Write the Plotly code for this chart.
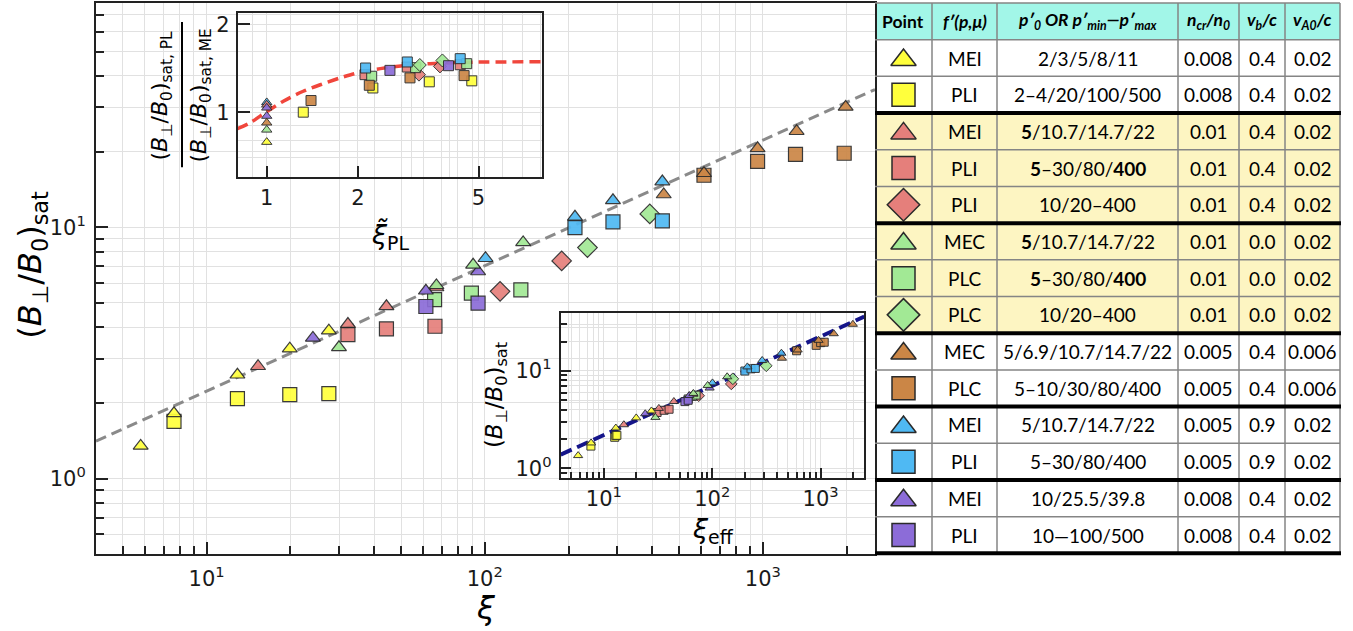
import math
import plotly.graph_objects as go

W, H = 1353, 631

# ---------------- data ----------------
# main panel: xi  vs  (B_perp/B0)_sat
y_tri_xi = [5.79, 7.63, 12.9, 19.9, 27.5]
y_tri_b = [1.35, 1.82, 2.59, 3.29, 3.88]
y_sq_xi = [7.63, 12.9, 19.9, 27.5]
y_sq_b = [1.69, 2.08, 2.16, 2.18]
r_tri_xi = [15.3, 32.2, 44.3, 67.0]
r_tri_b = [2.80, 4.12, 4.85, 5.76]
r_sq_xi = [32.2, 44.3, 66.2]
r_sq_b = [3.74, 3.94, 4.04]
r_dia_xi = [113.5, 189.0]
r_dia_b = [5.56, 7.35]
g_tri_xi = [29.9, 67.0, 90.8, 137.4]
g_tri_b = [3.33, 5.87, 7.09, 8.70]
g_sq_xi = [66.0, 89.5, 134.8]
g_sq_b = [5.15, 5.47, 5.64]
g_dia_xi = [234.0, 392.0]
g_dia_b = [8.30, 11.3]
o_tri_xi = [440.0, 614.0, 957.0, 1322.0, 1984.0]
o_tri_b = [13.5, 16.4, 20.6, 24.1, 30.1]
o_sq_xi = [614.0, 957.0, 1310.0, 1960.0]
o_sq_b = [16.1, 18.3, 19.5, 19.7]
c_tri_xi = [100.6, 211.0, 289.0, 435.0]
c_tri_b = [7.53, 11.0, 12.8, 15.2]
c_sq_xi = [211.0, 289.0, 435.0]
c_sq_b = [9.97, 10.5, 10.6]
p_tri_xi = [24.1, 61.4, 94.6]
p_tri_b = [3.63, 5.59, 6.67]
p_sq_xi = [61.4, 94.6]
p_sq_b = [4.84, 4.99]

# dashed reference line (main) end points
fit_xi = [4.0, 2530.0]
fit_b = [1.41, 35.3]

# lower inset: xi_eff (triangles keep their xi)
y_sq_eff = [7.6, 12.6, 12.9, 13.2]
r_sq_eff = [31.0, 36.0, 40.0]
r_dia_eff = [75.0, 150.0]
g_sq_eff = [60.0, 66.0, 71.0]
g_dia_eff = [155.0, 315.0]
o_sq_eff = [600.0, 910.0, 1000.0, 1080.0]
c_sq_eff = [200.0, 228.0, 250.0]
p_sq_eff = [56.0, 60.0]
fit_eff_x = [4.0, 2530.0]
fit_eff_b = [1.38, 36.1]

# upper inset: xi_tilde_PL vs ratio
y_tri_rx, y_tri_ry = [1.0], [0.79]
g_tri_rx, g_tri_ry = [1.0], [0.87]
o_tri_rx, o_tri_ry = [1.0], [0.92]
p_tri_rx, p_tri_ry = [1.0, 1.0], [0.97, 1.035]
r_tri_rx, r_tri_ry = [1.0], [1.06]
c_tri_rx, c_tri_ry = [1.0], [1.08]
y_sq_rx, y_sq_ry = [1.32, 2.24, 3.44, 4.75], [1.0, 1.21, 1.27, 1.28]
o_sq_rx, o_sq_ry = [1.40, 2.18, 2.97, 4.48], [1.096, 1.236, 1.31, 1.334]
c_sq_rx, c_sq_ry = [2.12, 2.91, 4.35], [1.416, 1.485, 1.524]
r_sq_rx, r_sq_ry = [2.11, 2.91, 4.35], [1.344, 1.427, 1.453]
g_sq_rx, g_sq_ry = [2.22, 3.10, 4.57], [1.327, 1.42, 1.465]
p_sq_rx, p_sq_ry = [2.55, 3.98], [1.39, 1.442]
r_dia_rx, r_dia_ry = [3.18, 3.73], [1.344, 1.434]
g_dia_rx, g_dia_ry = [3.20, 3.80], [1.45, 1.503]
curve_x = [0.80, 0.881, 1.005, 1.134, 1.32, 1.537, 1.79, 2.03, 2.37, 2.82, 3.46, 4.46, 5.74, 8.08]
curve_y = [0.878, 0.920, 1.008, 1.090, 1.179, 1.252, 1.32, 1.369, 1.409, 1.442, 1.465, 1.480, 1.485, 1.487]

# table contents
tab_header = ["<b>Point</b>", "<b><i>f′(p,μ)</i></b>",
              "<b><i>p′<sub>0</sub> OR p′<sub>min</sub>—p′<sub>max</sub></i></b>",
              "<b><i>n<sub>cr</sub>/n<sub>0</sub></i></b>", "<b><i>v<sub>b</sub>/c</i></b>",
              "<b><i>v<sub>A0</sub>/c</i></b>"]
tab_f = ["MEI", "PLI", "MEI", "PLI", "PLI", "MEC", "PLC", "PLC", "MEC", "PLC", "MEI", "PLI", "MEI", "PLI"]
tab_p = ["2/3/5/8/11", "2–4/20/100/500", "<b>5</b>/10.7/14.7/22", "<b>5</b>–30/80/<b>400</b>",
         "10/20–400", "<b>5</b>/10.7/14.7/22", "<b>5</b>–30/80/<b>400</b>", "10/20–400",
         "5/6.9/10.7/14.7/22", "5–10/30/80/400", "5/10.7/14.7/22", "5–30/80/400",
         "10/25.5/39.8", "10—100/500"]
tab_n = ["0.008", "0.008", "0.01", "0.01", "0.01", "0.01", "0.01", "0.01", "0.005", "0.005",
         "0.005", "0.005", "0.008", "0.008"]
tab_vb = ["0.4", "0.4", "0.4", "0.4", "0.4", "0.0", "0.0", "0.0", "0.4", "0.4", "0.9", "0.9", "0.4", "0.4"]
tab_va = ["0.02", "0.02", "0.02", "0.02", "0.02", "0.02", "0.02", "0.02", "0.006", "0.006",
          "0.02", "0.02", "0.02", "0.02"]

# ---------------- styles ----------------
YEL, RED, GRN, BRN, BLU, PUR = "#ffff3c", "#e57f7b", "#a2e995", "#cb8646", "#4fb9f3", "#8c6cd8"
EDGE = "#2a2a2a"

series = [
    # colour, symbol, main x, main y, eff x, ratio x, ratio y
    (YEL, "square", y_sq_xi, y_sq_b, y_sq_eff, y_sq_rx, y_sq_ry),
    (RED, "square", r_sq_xi, r_sq_b, r_sq_eff, r_sq_rx, r_sq_ry),
    (RED, "diamond", r_dia_xi, r_dia_b, r_dia_eff, r_dia_rx, r_dia_ry),
    (GRN, "square", g_sq_xi, g_sq_b, g_sq_eff, g_sq_rx, g_sq_ry),
    (GRN, "diamond", g_dia_xi, g_dia_b, g_dia_eff, g_dia_rx, g_dia_ry),
    (BRN, "square", o_sq_xi, o_sq_b, o_sq_eff, o_sq_rx, o_sq_ry),
    (BLU, "square", c_sq_xi, c_sq_b, c_sq_eff, c_sq_rx, c_sq_ry),
    (PUR, "square", p_sq_xi, p_sq_b, p_sq_eff, p_sq_rx, p_sq_ry),
    (BRN, "triangle-up", o_tri_xi, o_tri_b, o_tri_xi, o_tri_rx, o_tri_ry),
    (BLU, "triangle-up", c_tri_xi, c_tri_b, c_tri_xi, c_tri_rx, c_tri_ry),
    (RED, "triangle-up", r_tri_xi, r_tri_b, r_tri_xi, r_tri_rx, r_tri_ry),
    (PUR, "triangle-up", p_tri_xi, p_tri_b, p_tri_xi, p_tri_rx, p_tri_ry),
    (GRN, "triangle-up", g_tri_xi, g_tri_b, g_tri_xi, g_tri_rx, g_tri_ry),
    (YEL, "triangle-up", y_tri_xi, y_tri_b, y_tri_xi, y_tri_rx, y_tri_ry),
]
tab_colors = [YEL, YEL, RED, RED, RED, GRN, GRN, GRN, BRN, BRN, BLU, BLU, PUR, PUR]
tab_syms = ["triangle-up", "square", "triangle-up", "square", "diamond", "triangle-up", "square",
            "diamond", "triangle-up", "square", "triangle-up", "square", "triangle-up", "square"]

size_main = {"triangle-up": 13, "square": 14, "diamond": 15}
size_up = {"triangle-up": 9, "square": 10, "diamond": 10}
size_lo = {"triangle-up": 8, "square": 8, "diamond": 9}
size_tab = {"triangle-up": 22, "square": 23, "diamond": 25}

fig = go.Figure()

# reference lines
fig.add_trace(go.Scatter(x=fit_xi, y=fit_b, mode="lines", xaxis="x", yaxis="y",
                         line=dict(color="#8a8a8a", width=3, dash="11px,6px"), hoverinfo="skip"))
fig.add_trace(go.Scatter(x=fit_eff_x, y=fit_eff_b, mode="lines", xaxis="x3", yaxis="y3",
                         line=dict(color="#15158a", width=4, dash="12px,6px"), hoverinfo="skip"))
fig.add_trace(go.Scatter(x=curve_x, y=curve_y, mode="lines", xaxis="x2", yaxis="y2", line_shape="spline",
                         line=dict(color="#f0463c", width=3.5, dash="11px,6px"), hoverinfo="skip"))

for col, sym, mx, my, ex, rx, ry in series:
    fig.add_trace(go.Scatter(x=mx, y=my, mode="markers", xaxis="x", yaxis="y",
                             marker=dict(color=col, symbol=sym, size=size_main[sym], opacity=0.92,
                                         line=dict(color=EDGE, width=1.2))))
    fig.add_trace(go.Scatter(x=ex, y=my, mode="markers", xaxis="x3", yaxis="y3",
                             marker=dict(color=col, symbol=sym, size=size_lo[sym], opacity=0.92,
                                         line=dict(color=EDGE, width=1))))
    fig.add_trace(go.Scatter(x=rx, y=ry, mode="markers", xaxis="x2", yaxis="y2",
                             marker=dict(color=col, symbol=sym, size=size_up[sym], opacity=0.92,
                                         line=dict(color=EDGE, width=1))))

# ---------------- table ----------------
TX0, TX1 = 875, 1340
col_edges = [875, 932, 997, 1178, 1239, 1285, 1340]
row_h = (556 - 3) / 15.0
row_edges = [3 + row_h * k for k in range(16)]
shapes = []
annotations = []


def px(x):
    return x / W


def py(y):
    return 1 - y / H


def ann(x, y, text, size, family="DejaVu Sans", angle=0):
    return dict(x=px(x), y=py(y), xref="paper", yref="paper", text=text, showarrow=False,
                xanchor="center", yanchor="middle", textangle=angle,
                font=dict(family=family, size=size, color="black"))


# fills
shapes.append(dict(type="rect", xref="paper", yref="paper", x0=px(TX0), x1=px(TX1),
                   y0=py(row_edges[0]), y1=py(row_edges[1]), fillcolor="#a2f6e8", line_width=0, layer="below"))
shapes.append(dict(type="rect", xref="paper", yref="paper", x0=px(TX0), x1=px(TX1),
                   y0=py(row_edges[3]), y1=py(row_edges[9]), fillcolor="#fdf5c2", line_width=0, layer="below"))
thick = [3, 6, 9, 11, 13, 15]
for k in range(16):
    if k in thick:
        continue
    shapes.append(dict(type="line", xref="paper", yref="paper", x0=px(TX0), x1=px(TX1),
                       y0=py(row_edges[k]), y1=py(row_edges[k]), line=dict(color="#858585", width=1.5)))
for xe in col_edges[1:]:
    shapes.append(dict(type="line", xref="paper", yref="paper", x0=px(xe), x1=px(xe),
                       y0=py(row_edges[0]), y1=py(row_edges[15]), line=dict(color="#858585", width=1.5)))
for k in thick:
    shapes.append(dict(type="line", xref="paper", yref="paper", x0=px(TX0), x1=px(TX1 + 1),
                       y0=py(row_edges[k]), y1=py(row_edges[k]), line=dict(color="black", width=4)))

col_c = [(col_edges[i] + col_edges[i + 1]) / 2 for i in range(6)]
for i, t in enumerate(tab_header):
    annotations.append(ann(col_c[i], (row_edges[0] + row_edges[1]) / 2, t, 17.5, "Lato"))
for r in range(14):
    yc = (row_edges[r + 1] + row_edges[r + 2]) / 2
    for i, t in enumerate([tab_f[r], tab_p[r], tab_n[r], tab_vb[r], tab_va[r]]):
        annotations.append(ann(col_c[i + 1], yc, t, 19, "Lato"))
    fig.add_trace(go.Scatter(x=[col_c[0]], y=[yc + (2 if tab_syms[r] == "triangle-up" else 0)],
                             mode="markers", xaxis="x4", yaxis="y4",
                             marker=dict(color=tab_colors[r], symbol=tab_syms[r], size=size_tab[tab_syms[r]],
                                         line=dict(color=EDGE, width=1.5))))

# ---------------- axis titles ----------------
BB = "(<i>B</i><sub>⊥</sub>/<i>B</i><sub>0</sub>)"
annotations += [
    ann(32, 266, BB + "<sub>sat</sub>", 32, angle=-90),
    ann(486, 611, "<i>ξ</i>", 32),
    ann(162, 96, BB + "<sub>sat, PL</sub>", 22, angle=-90),
    ann(201, 96, BB + "<sub>sat, ME</sub>", 22, angle=-90),
    ann(390, 237, "<i>ξ̃</i><sub>PL</sub>", 27),
    ann(496, 397, BB + "<sub>sat</sub>", 23, angle=-90),
    ann(713, 533, "<i>ξ</i><sub>eff</sub>", 27),
]
shapes.append(dict(type="line", xref="paper", yref="paper", x0=px(182), x1=px(182), y0=py(22), y1=py(168),
                   line=dict(color="black", width=2)))


def minors(lo, hi, vmin, vmax):
    out = []
    for e in range(lo, hi + 1):
        for m in range(2, 10):
            v = m * 10 ** e
            if vmin <= v <= vmax:
                out.append(v)
    return out


GRID = "#e1e1e1"
tickfont = dict(family="DejaVu Sans", size=21, color="#1a1a1a")


def logaxis(domain, rng, tv, tt, minor_vals, anchor, ticklen=12, minorlen=8, minor_ticks=True, lw=2, standoff=4):
    return dict(type="log", domain=domain, range=rng, anchor=anchor, tickmode="array", tickvals=tv, ticktext=tt,
                ticks="inside", ticklen=ticklen, tickwidth=2, tickcolor="#222", showline=True, linecolor="#222",
                linewidth=lw, mirror=True, showgrid=True, gridcolor=GRID, gridwidth=1, zeroline=False,
                tickfont=tickfont, ticklabelstandoff=standoff,
                minor=dict(tickmode="array", tickvals=minor_vals, ticks="inside" if minor_ticks else "",
                           ticklen=minorlen, tickwidth=1.5, tickcolor="#222", showgrid=True, gridcolor=GRID,
                           gridwidth=1))


xr = [math.log10(4.0), math.log10(2530)]
E3 = ["10<sup>1</sup>", "10<sup>2</sup>", "10<sup>3</sup>"]
main_x = logaxis([px(96), px(875)], xr, [10, 100, 1000], E3, minors(0, 3, 4, 2530), "y")
main_y = logaxis([py(557), py(3)], [math.log10(0.5), math.log10(78)], [1, 10], ["10<sup>0</sup>", "10<sup>1</sup>"],
                 minors(-1, 1, 0.5, 78), "x")
up_x = logaxis([px(237.7), px(541.7)], [math.log10(0.802), math.log10(8.08)], [1, 2, 5], ["1", "2", "5"],
               [0.9, 3, 4, 6, 7, 8], "y2", ticklen=12, minor_ticks=False, lw=1.8, standoff=0)
up_y = logaxis([py(178.3), py(12.7)], [math.log10(0.598), math.log10(2.19)], [1, 2], ["1", "2"],
               [0.6, 0.7, 0.8, 0.9], "x2", ticklen=12, minor_ticks=False, lw=1.8, standoff=2)
lo_x = logaxis([px(560.7), px(864.3)], xr, [10, 100, 1000], E3, minors(0, 3, 4, 2530), "y3",
               ticklen=10, minorlen=6, lw=1.8, standoff=1)
lo_y = logaxis([py(480), py(314.3)], [math.log10(0.80), math.log10(39.5)], [1, 10],
               ["10<sup>0</sup>", "10<sup>1</sup>"], minors(-1, 1, 0.8, 39.5), "x3", ticklen=10, minorlen=6,
               lw=1.8, standoff=3)

fig.update_layout(
    width=W, height=H, autosize=False, margin=dict(l=0, r=0, t=0, b=0),
    paper_bgcolor="white", plot_bgcolor="rgba(0,0,0,0)", showlegend=False,
    xaxis=main_x, yaxis=main_y, xaxis2=up_x, yaxis2=up_y, xaxis3=lo_x, yaxis3=lo_y,
    xaxis4=dict(domain=[px(875), px(1345)], range=[875, 1345], visible=False, anchor="y4", fixedrange=True),
    yaxis4=dict(domain=[0, 1], range=[H, 0], visible=False, anchor="x4", fixedrange=True),
    shapes=shapes, annotations=annotations,
)

fig.write_html("out.html")
